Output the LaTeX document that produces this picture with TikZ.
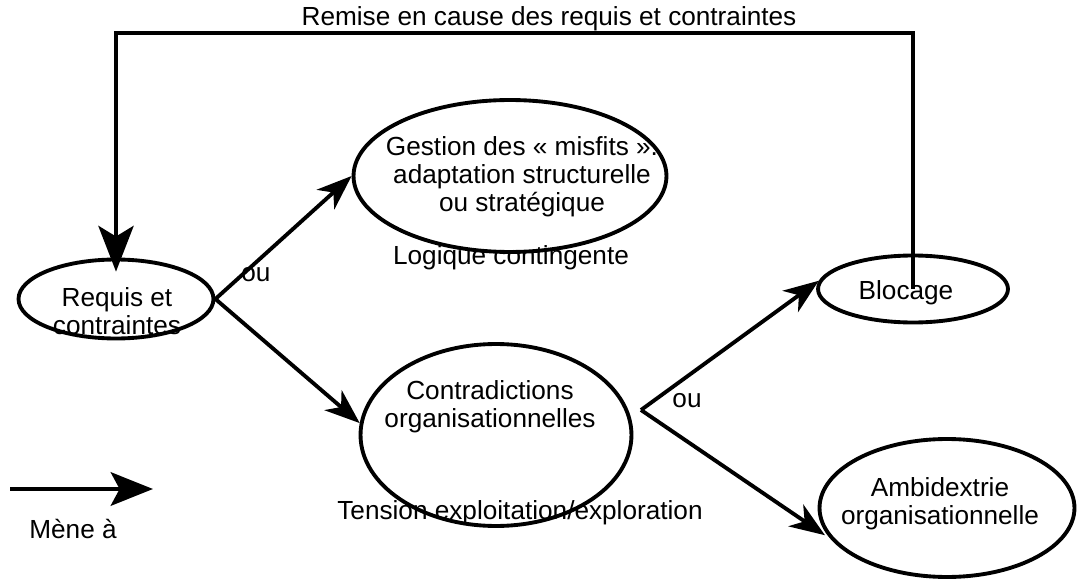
\documentclass[tikz,border=0pt]{standalone}
\usepackage{fontspec}
\setmainfont{Liberation Sans}
\usepackage{tikz}
\usetikzlibrary{shapes.geometric,arrows.meta,calc,positioning}

\begin{document}
\begin{tikzpicture}[x=0.02cm,y=-0.02cm,font=\fontsize{14.9}{16}\selectfont]

% \draw[step=50,gray,very thin] (0,0) grid (1079,581);
\useasboundingbox (0,0) rectangle (1079,581);

\tikzstyle{bulle} = [draw, ellipse, line width=2.2pt, inner sep=0pt]
\tikzstyle{txt} = [align=center, inner sep=0pt]
\tikzstyle{fleche} = [line width=2.2pt, -{Stealth[length=20pt,width=15pt,inset=6pt]}]
\tikzstyle{retour} = [line width=2.7pt, -{Stealth[length=26pt,width=20pt,inset=6pt]}]

\node (req) [bulle,minimum width=3.9cm,minimum height=1.58cm] at (116,299) {};
\node (reqtext) [txt] at (117,311) {Requis et\\contraintes};

\node (ges) [bulle,minimum width=6.26cm,minimum height=3.04cm] at (510,176) {};
\node (gestext) [txt] at (522,177) {Gestion des « misfits ».\\adaptation structurelle\\ou stratégique};
\node (logique) [txt] at (511,258) {Logique contingente};

\node (con) [bulle,minimum width=5.42cm,minimum height=3.64cm] at (496,435) {};
\node (context) [txt] at (490,407) {Contradictions\\organisationnelles};
\node (tension) [txt] at (520,513) {Tension exploitation/exploration};

\node (blo) [bulle,minimum width=3.8cm,minimum height=1.34cm] at (913,289) {};
\node (blotext) [txt] at (906,293) {Blocage};

\node (amb) [bulle,minimum width=5.1cm,minimum height=2.76cm] at (947,508) {};
\node (ambtext) [txt] at (940,504) {Ambidextrie\\organisationnelle};

% choix apres les requis
\draw [fleche] (req.east) -- (ges.west);
\draw [fleche] (req.east) -- (con.175);
\node (ou1) [txt] at (256,275) {ou};

% choix apres les contradictions
\coordinate (fork) at (641,410);
\draw [fleche] (fork) -- (blo.175);
\draw [fleche,shorten >=4pt] (fork) -- (amb.195);
\node (ou2) [txt] at (687,401) {ou};

% boucle de retour
\coordinate (boucle) at (500,33);
\draw [retour,shorten >=-8pt] (blo.center) |- (boucle) -| (req.north);
\node (remise) [txt] at (549,19) {Remise en cause des requis et contraintes};

% legende
\coordinate (lga) at (10,489);
\coordinate (lgb) at (153,489);
\draw [line width=2.7pt,-{Stealth[length=24pt,width=19pt,inset=5pt]}] (lga) -- (lgb);
\node (mene) [txt] at (73,529) {Mène à};

\end{tikzpicture}
\end{document}
